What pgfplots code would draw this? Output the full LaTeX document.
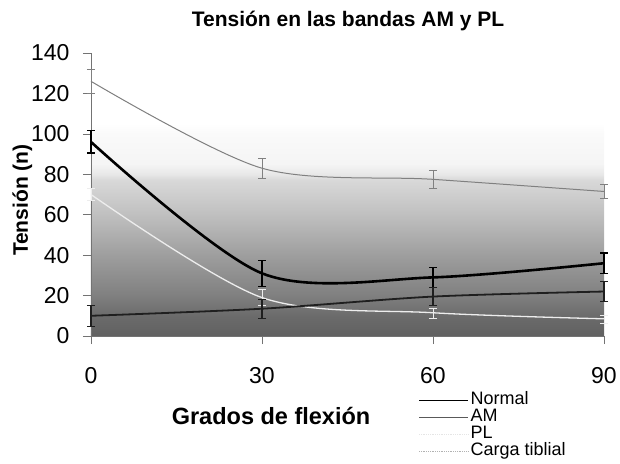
\documentclass[border=0pt]{standalone}
\usepackage{pgfplots}
\pgfplotsset{compat=1.18}
\usepackage{fontspec}
\setmainfont{Liberation Sans}
\pgfdeclareverticalshading{bgshade}{100bp}{color(0bp)=(black!62); color(25bp)=(black!62); color(28.6bp)=(black!58); color(32.1bp)=(black!50); color(39.3bp)=(black!38); color(46.4bp)=(black!25); color(52.6bp)=(black!15); color(53.6bp)=(black!9); color(55.4bp)=(black!4); color(60.7bp)=(black!2); color(62.5bp)=(white); color(100bp)=(white)}
\begin{document}
\begin{tikzpicture}
\path[use as bounding box] (-91pt,-127pt) rectangle (529pt,336pt);
\begin{axis}[
  scale only axis, width=513pt, height=283pt,
  xmin=0, xmax=90, ymin=0, ymax=140,
  axis lines*=left,
  axis line style={black!55, line width=0.6pt},
  xtick={0,30,60,90}, ytick={0,20,...,140},
  tick style={black!55, line width=0.6pt},
  major tick length=8pt,
  tick align=outside,
  ticklabel style={font=\fontsize{23}{25}\selectfont},
  xticklabel style={yshift=-20pt},
  yticklabel style={xshift=-10pt},
  /pgf/number format/assume math mode=true,
  axis background/.style={shading=bgshade},
  xlabel={\textbf{Grados de flexión}},
  ylabel={\textbf{Tensión (n)}},
  every axis x label/.style={at={(axis description cs:0.351,-0.283)}, anchor=center, font=\fontsize{23.5}{25}\selectfont},
  every axis y label/.style={at={(axis description cs:-0.134,0.48)}, rotate=90, anchor=center, font=\fontsize{21}{23}\selectfont},
  clip=false,
  legend style={at={(axis description cs:0.632,-0.188)}, anchor=north west, draw=none, fill=none,
    font=\fontsize{18}{18}\selectfont, row sep=0pt, column sep=2pt,
    nodes={inner sep=0pt, text height=13pt, text depth=4pt}},
  legend cell align=left,
  legend image code/.code={\draw[#1] (0pt,-0.5pt) -- (49pt,-0.5pt);},
]
% Carga tibial
\addplot+[smooth, tension=0.5, no marks, black!50, line width=1pt, forget plot,
  error bars/.cd, y dir=both, y explicit,
  error bar style={black!50, line width=0.8pt},
  error mark options={rotate=90, mark size=4pt, black!50}]
  coordinates {(0,126) +- (0,6) (30,83) +- (0,5) (60,77.5) +- (0,4.5) (90,71.5) +- (0,3.5)};
% AM
\addplot+[smooth, tension=0.5, no marks, black, line width=2.6pt, forget plot,
  error bars/.cd, y dir=both, y explicit,
  error bar style={black, line width=1.3pt},
  error mark options={rotate=90, mark size=4pt, black, line width=1.3pt}]
  coordinates {(0,96) +- (0,5.5) (30,31) +- (0,6.5) (60,29) +- (0,5) (90,36) +- (0,5)};
% PL
\addplot+[smooth, tension=0.5, no marks, white!93!black, line width=1.3pt, forget plot,
  error bars/.cd, y dir=both, y explicit,
  error bar style={white!93!black, line width=0.9pt},
  error mark options={rotate=90, mark size=4pt, white!93!black}]
  coordinates {(0,70) +- (0,3) (30,19) +- (0,4) (60,11.5) +- (0,2.5) (90,8.5) +- (0,2)};
% Normal
\addplot+[smooth, tension=0.5, no marks, black!88, line width=1.8pt, forget plot,
  error bars/.cd, y dir=both, y explicit,
  error bar style={black!88, line width=1.1pt},
  error mark options={rotate=90, mark size=4pt, black!88}]
  coordinates {(0,10) +- (0,5) (30,13.5) +- (0,4.5) (60,19.5) +- (0,4.5) (90,22) +- (0,5)};
\addlegendimage{black, line width=1.3pt}
\addlegendentry{Normal}
\addlegendimage{black!65, line width=0.8pt}
\addlegendentry{AM}
\addlegendimage{black!10, line width=0.8pt, densely dotted}
\addlegendentry{PL}
\addlegendimage{black!30, line width=0.8pt, densely dotted}
\addlegendentry{Carga tiblial}
\end{axis}
\node[font=\bfseries\fontsize{21}{23}\selectfont] at (257pt,315pt) {Tensión en las bandas AM y PL};
\end{tikzpicture}
\end{document}
